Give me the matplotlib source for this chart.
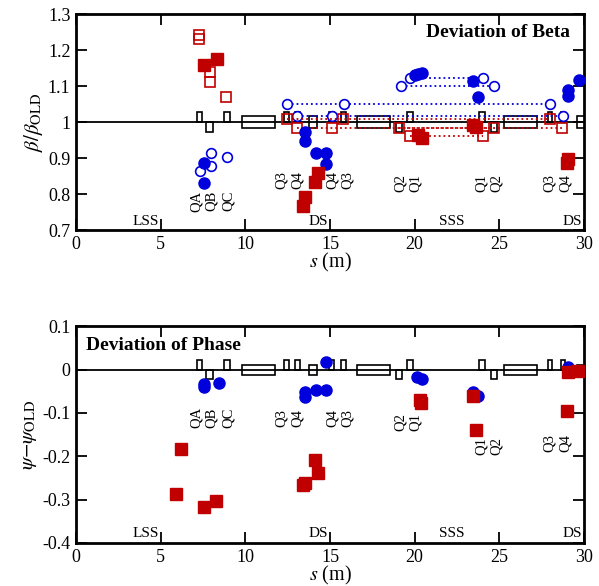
import numpy as np
import matplotlib.pyplot as plt
from matplotlib.patches import Rectangle

plt.rcParams['font.family'] = ['Liberation Serif', 'DejaVu Serif']
plt.rcParams['mathtext.fontset'] = 'stix'

BLUE = '#0000dd'
RED = '#c00000'

# measured beta ratio (filled markers)
beta_blue_s = [7.56, 7.56, 13.53, 13.53, 14.18, 14.77, 14.77, 20.02, 20.22, 20.42, 23.47, 23.76, 29.08, 29.08, 29.73]
beta_blue = [0.887, 0.830, 0.973, 0.948, 0.913, 0.915, 0.882, 1.130, 1.133, 1.137, 1.114, 1.069, 1.089, 1.072, 1.117]
beta_red_s = [7.56, 8.31, 13.39, 13.53, 14.12, 14.31, 20.22, 20.42, 23.47, 23.6, 28.98, 29.05]
beta_red = [1.158, 1.175, 0.767, 0.793, 0.834, 0.859, 0.964, 0.955, 0.992, 0.987, 0.885, 0.897]

# model beta ratio (open markers), isolated points
calc_blue_s = [7.32, 7.95, 7.95, 8.94]
calc_blue = [0.865, 0.913, 0.878, 0.902]
calc_red_s = [7.28, 7.28, 7.91, 7.91, 8.86]
calc_red = [1.243, 1.230, 1.140, 1.112, 1.070]

# model points joined by dotted lines (s list, value)
calc_blue_groups = [([12.48, 15.8, 28.0], 1.050),
                    ([13.07, 15.12, 28.78], 1.018),
                    ([19.73, 24.06], 1.121),
                    ([19.18, 24.69], 1.100)]
calc_red_groups = [([12.48, 15.79, 28.0], 1.008),
                   ([13.07, 15.1, 28.69], 0.984),
                   ([19.1, 24.69], 0.984),
                   ([19.73, 24.02], 0.961)]

# phase deviation
psi_blue_s = [7.56, 7.56, 8.47, 13.53, 13.53, 14.18, 14.77, 14.77, 20.12, 20.42, 23.43, 23.76, 29.08]
psi_blue = [-0.034, -0.041, -0.030, -0.051, -0.064, -0.047, -0.047, 0.018, -0.017, -0.021, -0.051, -0.061, 0.005]
psi_red_s = [5.91, 6.18, 7.56, 8.27, 13.39, 13.53, 14.12, 14.31, 20.3, 20.35, 23.47, 23.63, 28.98, 29.08, 29.67]
psi_red = [-0.287, -0.184, -0.318, -0.303, -0.266, -0.262, -0.209, -0.239, -0.070, -0.077, -0.061, -0.140, -0.095, -0.005, -0.004]

# lattice: (start, end, kind)
magnets = [(7.15, 7.45, 'up'), (7.68, 8.12, 'down'), (8.72, 9.07, 'up'),
           (9.8, 11.75, 'box'), (12.3, 12.6, 'up'), (12.95, 13.25, 'up'),
           (13.78, 14.22, 'box'), (14.95, 15.25, 'up'), (15.65, 15.95, 'up'),
           (16.6, 18.55, 'box'), (18.92, 19.28, 'down'), (19.57, 19.93, 'up'),
           (23.82, 24.18, 'up'), (24.52, 24.88, 'down'), (25.25, 27.2, 'box'),
           (27.88, 28.12, 'up'), (28.63, 28.87, 'up'), (29.6, 30.6, 'box')]

quad_names = ['QA', 'QB', 'QC', 'Q3', 'Q4', 'Q4', 'Q3', 'Q2', 'Q1', 'Q1', 'Q2', 'Q3', 'Q4']
quad_name_s = [7.13, 8.01, 9.0, 12.15, 13.07, 15.16, 16.03, 19.14, 20.02, 23.96, 24.85, 27.96, 28.88]
beta_name_y = [0.78, 0.78, 0.78, 0.84, 0.84, 0.84, 0.84, 0.83, 0.83, 0.83, 0.83, 0.83, 0.83]
psi_name_y = [-0.111, -0.111, -0.111, -0.111, -0.111, -0.111, -0.111, -0.121, -0.121, -0.177, -0.177, -0.170, -0.170]

sections = ['LSS', 'DS', 'SSS', 'DS']
section_s = [4.9, 14.9, 22.2, 29.9]
section_ha = ['right', 'right', 'center', 'right']


def draw_lattice(ax, base, hq, hb):
    ax.axhline(base, color='k', lw=1.3, zorder=1)
    for s0, s1, kind in magnets:
        if kind == 'up':
            r = Rectangle((s0, base), s1 - s0, hq)
        elif kind == 'down':
            r = Rectangle((s0, base - hq), s1 - s0, hq)
        else:
            r = Rectangle((s0, base - hb), s1 - s0, 2 * hb)
        r.set_facecolor('none')
        r.set_edgecolor('k')
        r.set_linewidth(1.2)
        r.set_zorder(2)
        ax.add_patch(r)


def style(ax):
    ax.set_xlim(0, 30)
    ax.set_xticks(np.arange(0, 31, 5))
    ax.tick_params(direction='in', length=8, width=1.3, top=True, right=True,
                   labelsize=13, pad=4)
    for sp in ax.spines.values():
        sp.set_linewidth(2)
    ax.set_xlabel('$s$ (m)', fontsize=14.5, labelpad=-1)


fig = plt.figure(figsize=(5.99, 5.86), dpi=100)
ax1 = fig.add_axes([0.1269, 0.6075, 0.848, 0.3686])
ax2 = fig.add_axes([0.1269, 0.0734, 0.848, 0.370])

# ---- beta panel
draw_lattice(ax1, 1.0, 0.028, 0.016)
for ss, v in calc_blue_groups:
    ax1.plot(ss, [v] * len(ss), ':', color=BLUE, lw=1.3, marker='o', ms=7,
             mfc='white', mec=BLUE, mew=1.2, zorder=3)
for ss, v in calc_red_groups:
    ax1.plot(ss, [v] * len(ss), ':', color=RED, lw=1.3, marker='s', ms=7,
             mfc='none', mec=RED, mew=1.2, zorder=3)
ax1.plot(calc_blue_s, calc_blue, 'o', ms=7, mfc='white', mec=BLUE, mew=1.2, zorder=3)
ax1.plot(calc_red_s, calc_red, 's', ms=7, mfc='none', mec=RED, mew=1.2, zorder=3)
ax1.plot(beta_blue_s, beta_blue, 'o', ms=8, color=BLUE, zorder=4)
ax1.plot(beta_red_s, beta_red, 's', ms=8, color=RED, zorder=4)

ax1.set_ylim(0.7, 1.3)
ax1.set_yticks(np.arange(0.7, 1.31, 0.1))
ax1.set_yticklabels(['0.7', '0.8', '0.9', '1', '1.1', '1.2', '1.3'])
style(ax1)
ax1.set_ylabel(r'$\beta/\beta_{\rm OLD}$', fontsize=15, labelpad=2)
ax1.text(29.2, 1.25, 'Deviation of Beta', ha='right', va='center',
         fontsize=14, fontweight='bold')
for name, s, y in zip(quad_names, quad_name_s, beta_name_y):
    ax1.text(s, y, name, rotation=90, ha='center', va='center', fontsize=10.5)
for name, s, ha in zip(sections, section_s, section_ha):
    ax1.text(s, 0.706, name, ha=ha, va='bottom', fontsize=11)

# ---- phase panel
draw_lattice(ax2, 0.0, 0.0215, 0.0115)
ax2.plot(psi_blue_s, psi_blue, 'o', ms=8, color=BLUE, zorder=4)
ax2.plot(psi_red_s, psi_red, 's', ms=8, color=RED, zorder=4)

ax2.set_ylim(-0.4, 0.1)
ax2.set_yticks(np.arange(-0.4, 0.11, 0.1))
ax2.set_yticklabels(['-0.4', '-0.3', '-0.2', '-0.1', '0', '0.1'])
style(ax2)
ax2.set_ylabel(r'$\psi\mathrm{-}\psi_{\rm OLD}$', fontsize=15, labelpad=2)
ax2.text(0.6, 0.056, 'Deviation of Phase', ha='left', va='center',
         fontsize=14, fontweight='bold')
for name, s, y in zip(quad_names, quad_name_s, psi_name_y):
    ax2.text(s, y, name, rotation=90, ha='center', va='center', fontsize=10.5)
for name, s, ha in zip(sections, section_s, section_ha):
    ax2.text(s, -0.392, name, ha=ha, va='bottom', fontsize=11)

fig.savefig('out.png', dpi=100)
